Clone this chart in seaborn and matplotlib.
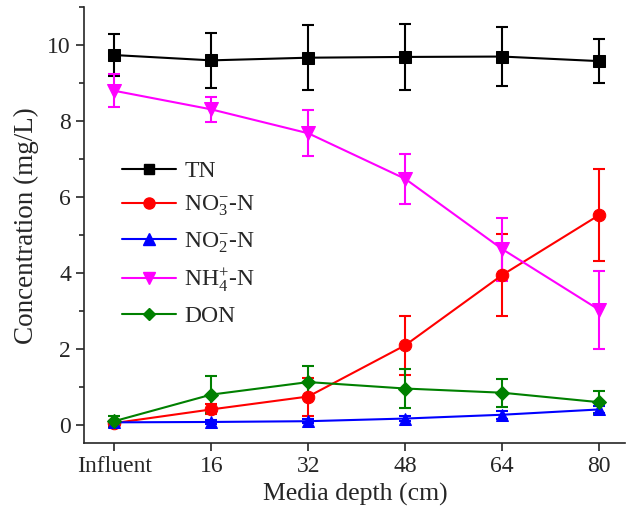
import numpy as np
import pandas as pd
import seaborn as sns
import matplotlib
matplotlib.use("Agg")
import matplotlib.pyplot as plt
from matplotlib.ticker import MultipleLocator

depth_labels = ["Influent", "16", "32", "48", "64", "80"]
series_names = ["TN", r"NO$_3^{-}$-N", r"NO$_2^{-}$-N", r"NH$_4^{+}$-N", "DON"]

tn = [9.74, 9.60, 9.67, 9.69, 9.70, 9.58]
tn_err = [0.55, 0.73, 0.86, 0.87, 0.78, 0.57]
no3 = [0.05, 0.41, 0.75, 2.10, 3.95, 5.53]
no3_err = [0.05, 0.13, 0.50, 0.78, 1.08, 1.22]
no2 = [0.07, 0.08, 0.10, 0.17, 0.27, 0.41]
no2_err = [0.04, 0.05, 0.05, 0.06, 0.10, 0.10]
nh4 = [8.80, 8.31, 7.68, 6.48, 4.63, 3.03]
nh4_err = [0.44, 0.32, 0.60, 0.65, 0.83, 1.03]
don = [0.10, 0.80, 1.13, 0.96, 0.85, 0.60]
don_err = [0.15, 0.48, 0.42, 0.52, 0.37, 0.30]

colors = ["#000000", "#FF0000", "#0000FF", "#FF00FF", "#008000"]
markers = ["s", "o", "^", "v", "D"]
sizes = [8, 9, 9, 10, 7]

values = [tn, no3, no2, nh4, don]
errors = [tn_err, no3_err, no2_err, nh4_err, don_err]

rows = []
for name, vals, errs in zip(series_names, values, errors):
    for i, (v, e) in enumerate(zip(vals, errs)):
        rows.append({"pos": i, "series": name, "conc": v, "err": e})
df = pd.DataFrame(rows)

sns.set_style("ticks")
plt.rcParams["font.family"] = ["Liberation Serif", "DejaVu Serif"]
plt.rcParams["mathtext.fontset"] = "custom"
plt.rcParams["mathtext.rm"] = "Liberation Serif"
plt.rcParams["mathtext.it"] = "Liberation Serif:italic"

fig = plt.figure(figsize=(6.28, 5.13), dpi=100)
ax = fig.add_axes([0.134, 0.136, 0.862, 0.85])

# draw NO2 and DON first so TN / NH4 sit on top like the original
order = [2, 4, 1, 3, 0]
for k in order:
    name = series_names[k]
    sub = df[df["series"] == name]
    ax.errorbar(sub["pos"], sub["conc"], yerr=sub["err"], fmt="none",
                ecolor=colors[k], elinewidth=1.5, capsize=4, capthick=1.5, zorder=2 + k * 0.1)
    sns.lineplot(data=sub, x="pos", y="conc", color=colors[k], marker=markers[k],
                 markersize=sizes[k], markeredgecolor=colors[k], linewidth=1.5,
                 label=name, ax=ax, zorder=3 + k * 0.1, legend=False)

handles = []
for k in range(5):
    h, = ax.plot([], [], color=colors[k], marker=markers[k], markersize=sizes[k] - 1,
                 markeredgecolor=colors[k], linewidth=1.5)
    handles.append(h)
ax.legend(handles, series_names, loc="upper left", bbox_to_anchor=(0.03, 0.697),
          frameon=False, fontsize=17, handlelength=2.3, labelspacing=0.5, handletextpad=0.35)

ax.set_xlim(-0.31, 5.27)
ax.set_ylim(-0.48, 11.0)
ax.set_xticks(range(len(depth_labels)))
ax.set_xticklabels(depth_labels)
ax.yaxis.set_major_locator(MultipleLocator(2))
ax.yaxis.set_minor_locator(MultipleLocator(1))
ax.tick_params(axis="both", which="major", labelsize=17, direction="out", length=6, width=1.2)
ax.tick_params(axis="y", which="minor", direction="out", length=3.5, width=1.2)
ax.set_xlabel("Media depth (cm)", fontsize=18.5, labelpad=4)
ax.set_ylabel("Concentration (mg/L)", fontsize=19.5, labelpad=6)

sns.despine(ax=ax)
for s in ["left", "bottom"]:
    ax.spines[s].set_linewidth(1.2)

fig.savefig("out.png", dpi=100)
